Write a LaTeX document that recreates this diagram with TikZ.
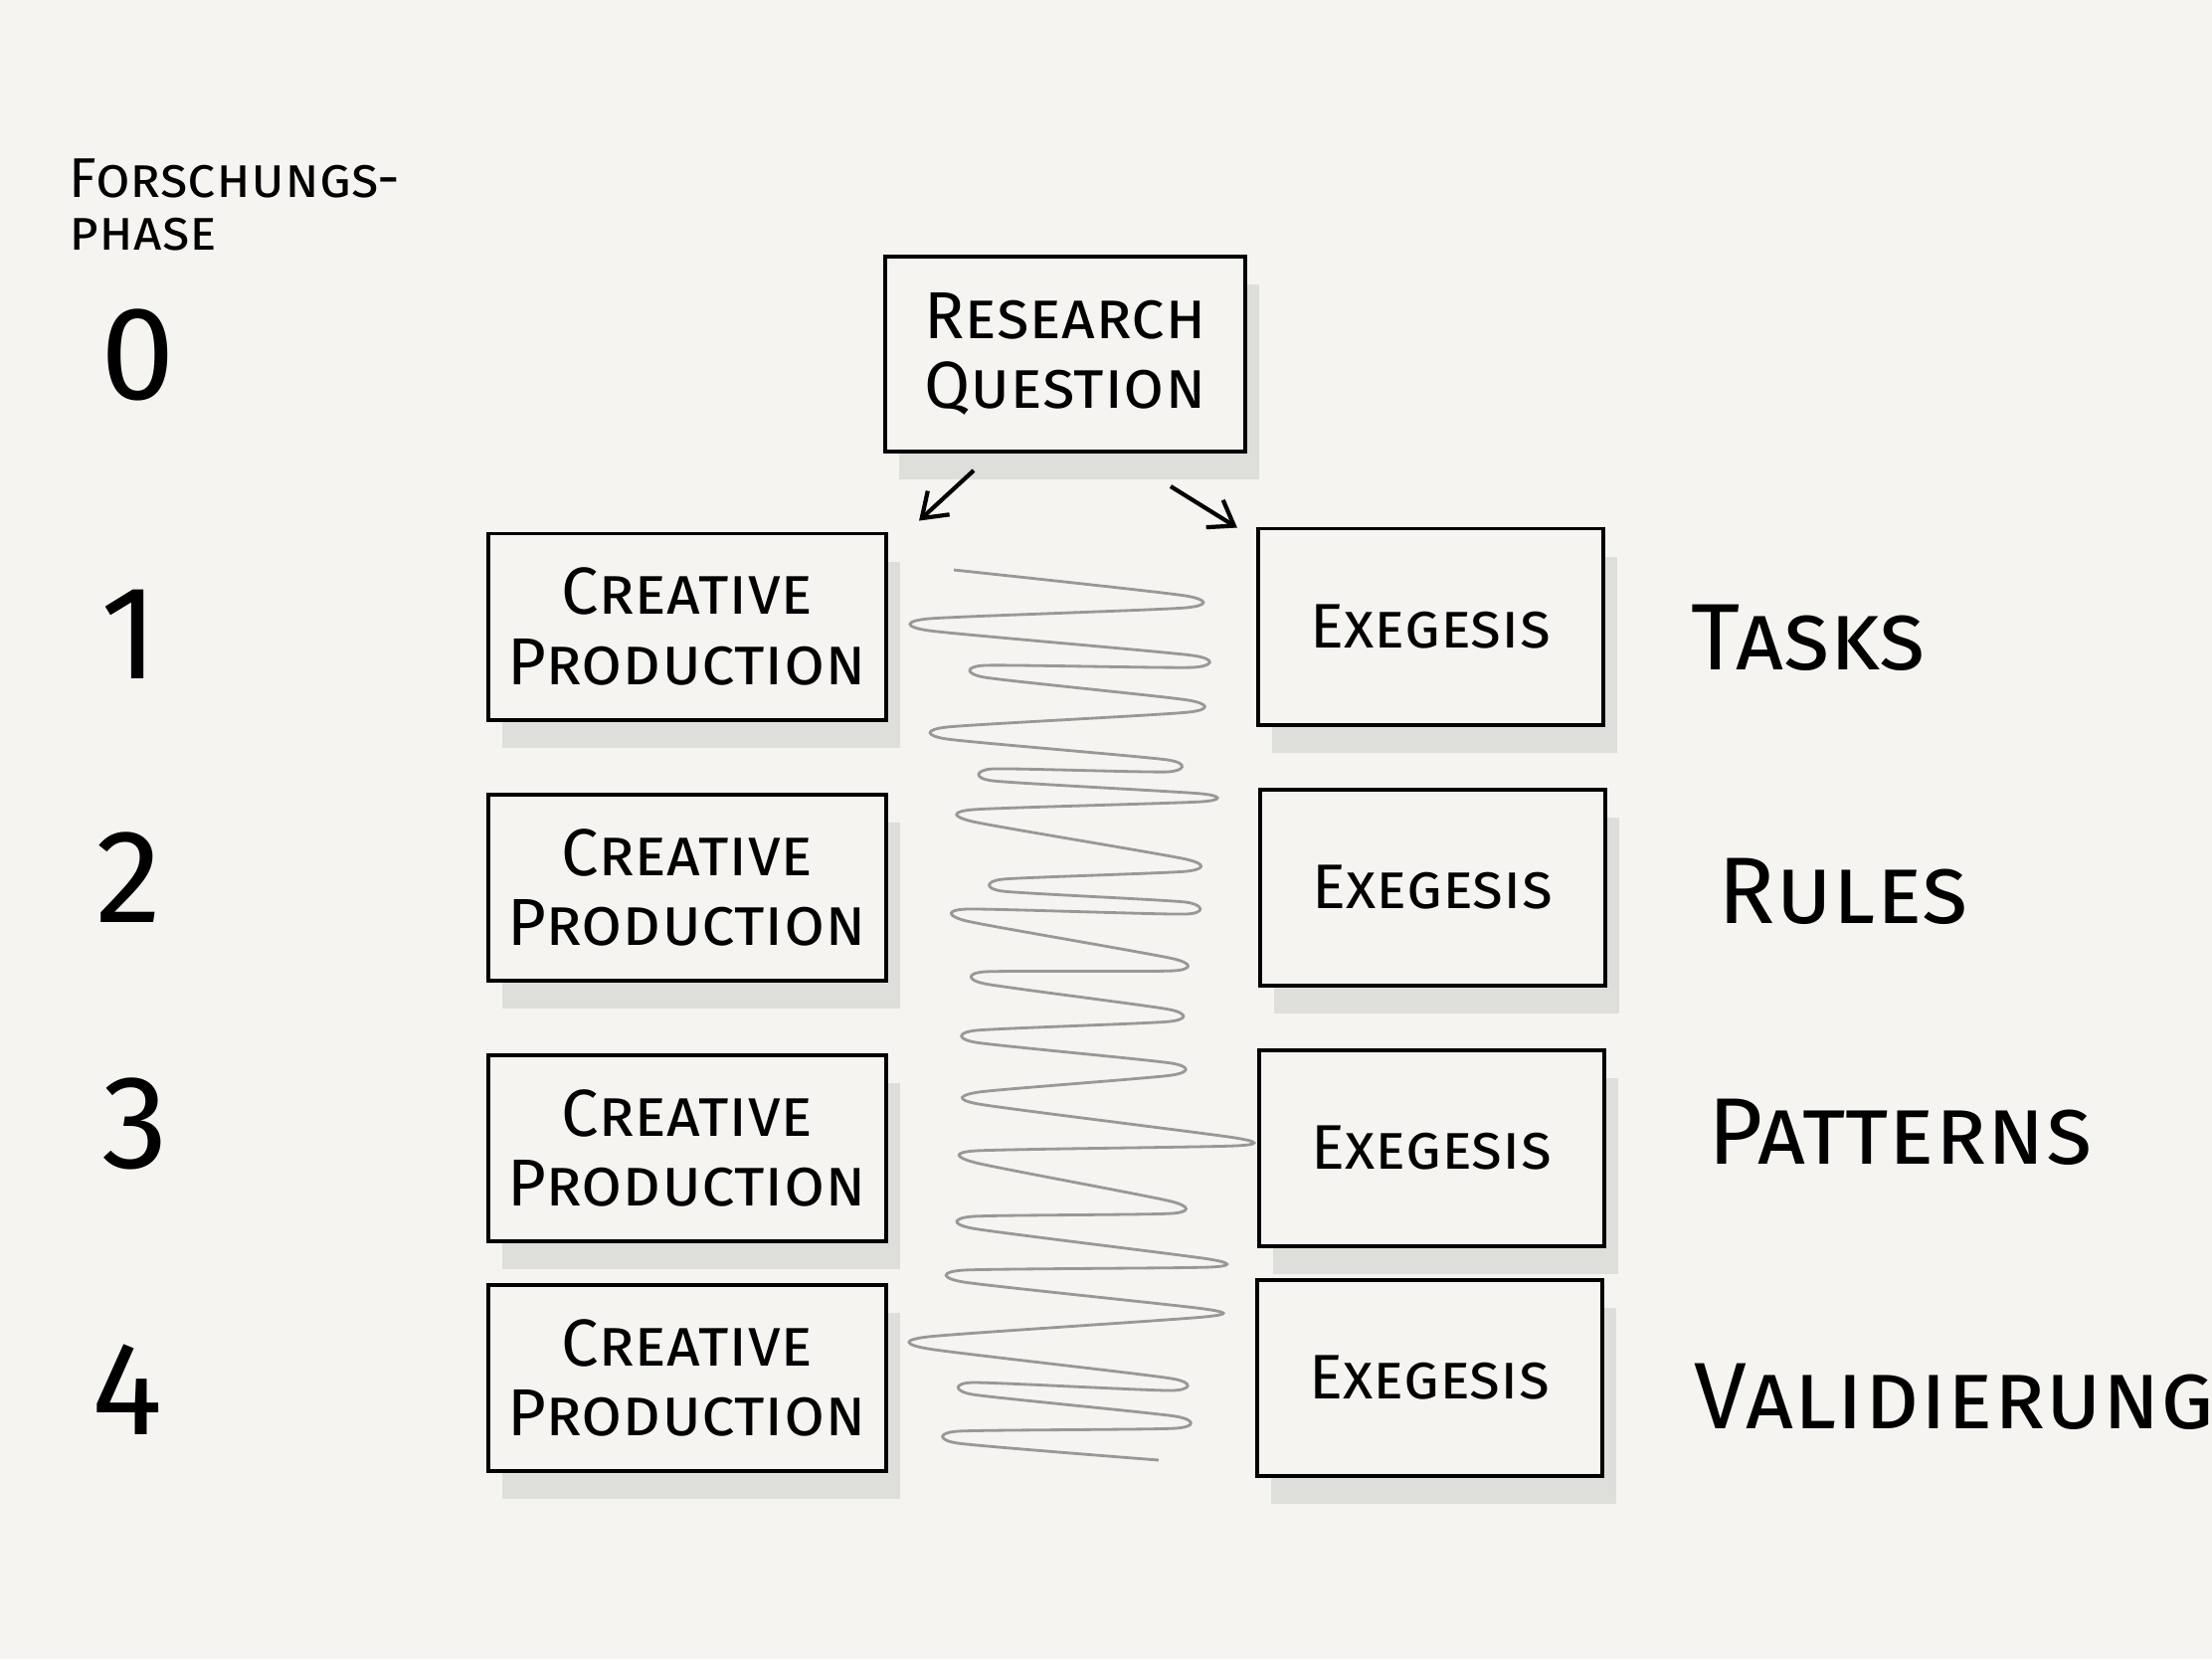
\documentclass[tikz,border=0pt]{standalone}
\usepackage{fontspec}
\setmainfont{Fira Sans}
\usetikzlibrary{arrows,arrows.meta,shadows,calc}

\definecolor{paper}{RGB}{245,244,240}
\definecolor{zig}{RGB}{152,152,152}
\definecolor{shade}{RGB}{222,222,219}

\begin{document}
\begin{tikzpicture}[x=0.01cm,y=-0.01cm,>={Straight Barb[angle=70:8pt]},node distance=2.62cm,line width=1.1pt]
  \tikzstyle{box}=[draw,fill=paper,align=center,minimum width=4cm,minimum height=1.87cm,
    drop shadow={shadow xshift=4pt,shadow yshift=-8pt,fill=shade,opacity=1},
    font=\fontsize{19}{20}\selectfont\scshape]
  \tikzstyle{exbox}=[box,minimum width=3.47cm,minimum height=1.97cm,font=\fontsize{18}{20}\selectfont\scshape]
  \tikzstyle{phase}=[font=\fontsize{38}{38}\selectfont]
  \tikzstyle{result}=[anchor=west,inner sep=0pt,font=\fontsize{27}{27}\selectfont\scshape]
  \tikzstyle{arrow}=[->,line width=1.2pt]
  \tikzstyle{zigzag}=[draw=zig,line width=0.8pt]

  \useasboundingbox (0,0) rectangle (2224,1668);
  \fill[paper] (0,0) rectangle (2224,1668);

  % left column
  \node[anchor=west,align=left,inner sep=0pt,font=\fontsize{16}{15}\selectfont\scshape] (head) at (68,206) {Forschungs-\\phase};
  \node[phase] (p0) at (139,357) {0};
  \node[phase] (p1) at (130,638) {1};
  \node[phase] (p2) at (130,882) {2};
  \node[phase] (p3) at (136,1130) {3};
  \node[phase] (p4) at (128,1397) {4};

  % boxes
  \node[box,minimum width=3.61cm,minimum height=1.96cm] (rq) at (1071,356) {Research\\Question};
  \node[box] (cp1) at (691,630) {Creative\\Production};
  \node[box] (cp2) [below of=cp1] {Creative\\Production};
  \node[box] (cp3) [below of=cp2] {Creative\\Production};
  \node[box] (cp4) [below of=cp3,node distance=2.31cm] {Creative\\Production};
  \node[exbox] (ex1) [right of=cp1,node distance=7.47cm] {Exegesis};
  \node[exbox] (ex2) [right of=cp2,node distance=7.49cm] {Exegesis};
  \node[exbox] (ex3) [right of=cp3,node distance=7.48cm] {Exegesis};
  \node[exbox] (ex4) [right of=cp4,node distance=7.46cm] {Exegesis};

  % right column
  \node[result] (r1) at (1699,641) {Tasks};
  \node[result] (r2) at (1726,896) {Rules};
  \node[result] (r3) at (1716,1138) {Patterns};
  \node[result] (r4) at (1702,1404) {Validierung};

  \draw[arrow] ($(rq.south)+(-92,17)$) -- ($(cp1.north east)+(31,-11)$);
  \draw[arrow] ($(rq.south)+(106,33)$) -- ($(ex1.north west)+(-19,1)$);

  % back and forth
  \draw[zigzag] plot[smooth,tension=0.35] coordinates {
    (959,573) (1192,599) (1192,611) (934,622) (934,634) (1199,659) (1199,671)
    (990,669) (990,681) (1195,704) (1195,716) (952,731) (952,743) (1174,764)
    (1174,776) (998,773) (998,785) (1208,798) (1208,806) (978,814) (978,826)
    (1193,864) (1193,876) (1008,884) (1008,896) (1192,907) (1192,919) (972,914)
    (972,926) (1180,964) (1180,976) (990,977) (990,989) (1176,1015) (1176,1027)
    (981,1036) (981,1048) (1178,1069) (1178,1081) (984,1098) (984,1110)
    (1242,1144) (1242,1152) (981,1157) (981,1169) (1178,1208) (1178,1220)
    (978,1223) (978,1235) (1216,1266) (1216,1274) (969,1277) (969,1289)
    (1211,1316) (1211,1324) (933,1344) (933,1356) (1178,1386) (1178,1398)
    (978,1390) (978,1402) (1182,1424) (1182,1436) (963,1439) (963,1451) (1165,1468)};
\end{tikzpicture}
\end{document}
